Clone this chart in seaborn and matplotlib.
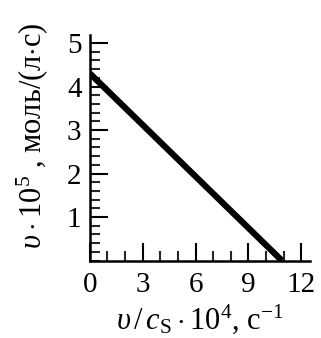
import matplotlib
matplotlib.use("Agg")
import matplotlib.pyplot as plt
import seaborn as sns
import pandas as pd
from matplotlib.ticker import MultipleLocator

# Rate vs. rate/substrate concentration (Eadie–Hofstee style line)
x_vals = [0.0, 10.9]     # υ/c_S·10^4, с^-1
y_vals = [4.3, 0.0]      # υ·10^5, моль/(л·с)
x_ticks = [0, 3, 6, 9, 12]
y_ticks = [1, 2, 3, 4, 5]

df = pd.DataFrame({"x": x_vals, "y": y_vals})

sns.set_theme(style="white")
plt.rcParams["font.family"] = ["Liberation Serif", "DejaVu Serif"]
plt.rcParams["mathtext.fontset"] = "custom"
plt.rcParams["mathtext.rm"] = "Liberation Serif"
plt.rcParams["mathtext.it"] = "Liberation Serif:italic"

fig = plt.figure(figsize=(3.21, 3.38), dpi=100)
ax = fig.add_axes([0.28, 0.229, 0.686, 0.667])

sns.lineplot(data=df, x="x", y="y", ax=ax, color="black", linewidth=4.5,
             solid_capstyle="butt")

ax.set_xlim(0, 12.5)
ax.set_ylim(0, 5.18)
ax.set_xticks(x_ticks)
ax.set_yticks(y_ticks)
ax.xaxis.set_minor_locator(MultipleLocator(1))
ax.yaxis.set_minor_locator(MultipleLocator(0.2))
ax.tick_params(which="major", direction="in", length=13, width=1.5,
               labelsize=21, colors="black")
ax.tick_params(axis="x", which="major", pad=8)
ax.tick_params(axis="y", which="major", pad=6)
ax.tick_params(which="minor", direction="in", length=7, width=1.5)
ax.tick_params(axis="x", which="both", bottom=True)
ax.tick_params(axis="y", which="both", left=True)
ax.set_xticklabels([str(t) for t in x_ticks])
ax.set_yticklabels([str(t) for t in y_ticks])

for side in ("top", "right"):
    ax.spines[side].set_visible(False)
for side in ("left", "bottom"):
    ax.spines[side].set_color("black")
    ax.spines[side].set_linewidth(1.8)

ax.set_xlabel(r"$\mathit{υ}\,/\,\mathit{c}_{\mathrm{S}}\cdot10^4$, с$^{-1}$",
              fontsize=22, color="black")
ax.set_ylabel(r"$\mathit{υ}\cdot10^5$ , моль/(л$\cdot$с)",
              fontsize=22, color="black")
ax.xaxis.set_label_coords(0.5, -0.185)
ax.yaxis.set_label_coords(-0.18, 0.552)

fig.savefig("out.png", dpi=100, facecolor="white")
